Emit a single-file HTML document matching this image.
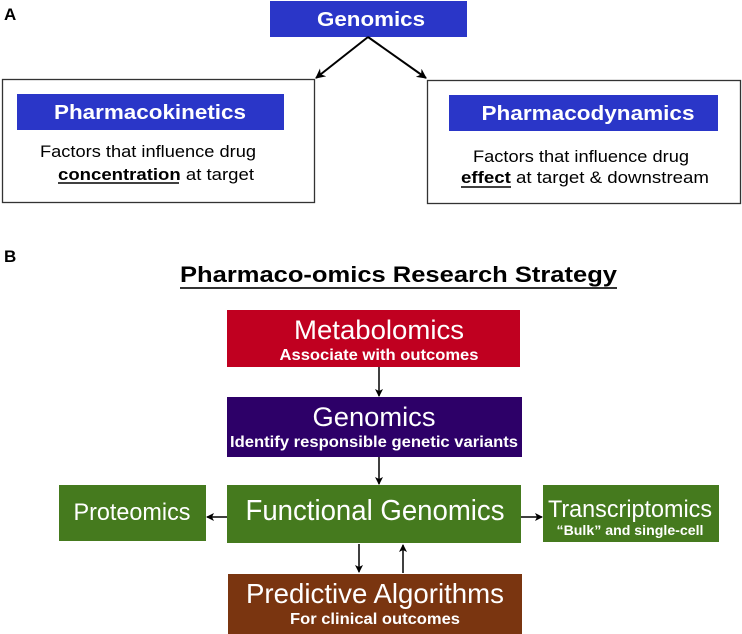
<!DOCTYPE html>
<html><head><meta charset="utf-8"><style>
html,body{margin:0;padding:0;background:#fff;}
svg{display:block;}
text{font-family:"Liberation Sans Narrow","Liberation Sans",sans-serif;}
.b{font-family:"Liberation Sans",sans-serif;font-weight:bold;}
.n{font-family:"Liberation Sans",sans-serif;}
</style></head><body>
<svg width="742" height="634" viewBox="0 0 742 634" xmlns="http://www.w3.org/2000/svg">
<defs>
<marker id="ah" markerWidth="10" markerHeight="10" refX="9" refY="5" orient="auto" markerUnits="userSpaceOnUse">
<path d="M0,0 L10,5 L0,10 L3,5 z" fill="#000"/></marker>
<marker id="as" markerWidth="8" markerHeight="8" refX="7" refY="4" orient="auto" markerUnits="userSpaceOnUse">
<path d="M0,0 L8,4 L0,8 L2,4 z" fill="#000"/></marker>
</defs>
<text class="b" x="4" y="20" font-size="17" fill="#000">A</text>
<rect x="270" y="1" width="197" height="36" fill="#2a36c8"/>
<text class="b" x="371" y="26" font-size="20" fill="#fff" text-anchor="middle" textLength="108" lengthAdjust="spacingAndGlyphs">Genomics</text>
<line x1="368" y1="37" x2="316" y2="78" stroke="#000" stroke-width="2" marker-end="url(#ah)"/>
<line x1="368" y1="37" x2="426" y2="78" stroke="#000" stroke-width="2" marker-end="url(#ah)"/>
<rect x="2.5" y="79.5" width="312" height="123" fill="none" stroke="#333" stroke-width="1.3"/>
<rect x="17" y="94" width="267" height="36" fill="#2a36c8"/>
<text class="b" x="150" y="119" font-size="20" fill="#fff" text-anchor="middle" textLength="192" lengthAdjust="spacingAndGlyphs">Pharmacokinetics</text>
<text class="n" x="40" y="157" font-size="17" fill="#000" textLength="216" lengthAdjust="spacingAndGlyphs">Factors that influence drug</text>
<text class="n" x="58" y="180" font-size="17" fill="#000" textLength="196" lengthAdjust="spacingAndGlyphs"><tspan font-weight="bold">concentration</tspan>  at target</text>
<line x1="58" y1="183" x2="179" y2="183" stroke="#000" stroke-width="1.5"/>
<rect x="427.5" y="80.5" width="313" height="123" fill="none" stroke="#333" stroke-width="1.3"/>
<rect x="449" y="95" width="269" height="36" fill="#2a36c8"/>
<text class="b" x="588" y="120" font-size="20" fill="#fff" text-anchor="middle" textLength="213" lengthAdjust="spacingAndGlyphs">Pharmacodynamics</text>
<text class="n" x="473" y="162" font-size="17" fill="#000" textLength="216" lengthAdjust="spacingAndGlyphs">Factors that influence drug</text>
<text class="n" x="461" y="183" font-size="17" fill="#000" textLength="248" lengthAdjust="spacingAndGlyphs"><tspan font-weight="bold">effect</tspan> at target &amp; downstream</text>
<line x1="461" y1="187" x2="511" y2="187" stroke="#000" stroke-width="1.5"/>
<text class="b" x="4" y="262" font-size="17" fill="#000">B</text>
<text class="b" x="180" y="282" font-size="22" fill="#000" textLength="437" lengthAdjust="spacingAndGlyphs">Pharmaco-omics Research Strategy</text>
<line x1="180" y1="288" x2="617" y2="288" stroke="#333" stroke-width="2"/>
<rect x="227" y="310" width="293" height="57" fill="#c00020"/>
<text x="379" y="339" font-size="27" fill="#fff" text-anchor="middle" textLength="170" lengthAdjust="spacingAndGlyphs">Metabolomics</text>
<text x="379" y="360" font-size="16" font-weight="bold" fill="#fff" text-anchor="middle" textLength="199" lengthAdjust="spacingAndGlyphs">Associate with outcomes</text>
<line x1="379" y1="367" x2="379" y2="396" stroke="#000" stroke-width="1.5" marker-end="url(#as)"/>
<rect x="227" y="397" width="295" height="60" fill="#2d0068"/>
<text x="374" y="426" font-size="27" fill="#fff" text-anchor="middle" textLength="123" lengthAdjust="spacingAndGlyphs">Genomics</text>
<text x="374" y="447" font-size="16" font-weight="bold" fill="#fff" text-anchor="middle" textLength="288" lengthAdjust="spacingAndGlyphs">Identify responsible genetic variants</text>
<line x1="379" y1="457" x2="379" y2="484" stroke="#000" stroke-width="1.5" marker-end="url(#as)"/>
<rect x="227" y="485" width="294" height="58" fill="#457a1e"/>
<text x="375" y="520" font-size="29" fill="#fff" text-anchor="middle" textLength="259" lengthAdjust="spacingAndGlyphs">Functional Genomics</text>
<rect x="59" y="485" width="147" height="56" fill="#457a1e"/>
<text x="132" y="520" font-size="24" fill="#fff" text-anchor="middle" textLength="117" lengthAdjust="spacingAndGlyphs">Proteomics</text>
<line x1="227" y1="517" x2="207" y2="517" stroke="#000" stroke-width="1.5" marker-end="url(#as)"/>
<rect x="543" y="485" width="176" height="57" fill="#457a1e"/>
<text x="630" y="517" font-size="24" fill="#fff" text-anchor="middle" textLength="164" lengthAdjust="spacingAndGlyphs">Transcriptomics</text>
<text x="630" y="535" font-size="14" font-weight="bold" fill="#fff" text-anchor="middle" textLength="147" lengthAdjust="spacingAndGlyphs">“Bulk” and single-cell</text>
<line x1="521" y1="517" x2="542" y2="517" stroke="#000" stroke-width="1.5" marker-end="url(#as)"/>
<line x1="359" y1="544" x2="359" y2="572" stroke="#000" stroke-width="1.5" marker-end="url(#as)"/>
<line x1="403" y1="573" x2="403" y2="545" stroke="#000" stroke-width="1.5" marker-end="url(#as)"/>
<rect x="228" y="574" width="294" height="60" fill="#7a3510"/>
<text x="375" y="603" font-size="28" fill="#fff" text-anchor="middle" textLength="258" lengthAdjust="spacingAndGlyphs">Predictive Algorithms</text>
<text x="375" y="624" font-size="16" font-weight="bold" fill="#fff" text-anchor="middle" textLength="170" lengthAdjust="spacingAndGlyphs">For clinical outcomes</text>
</svg>
</body></html>
